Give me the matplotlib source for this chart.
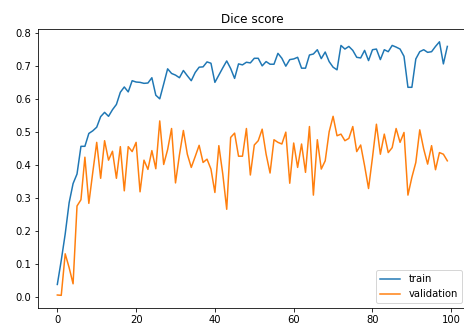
import numpy as np
import matplotlib
matplotlib.use('Agg')
import matplotlib.pyplot as plt

# Dice score per epoch
train_dice = [
    0.037, 0.11, 0.19, 0.285, 0.343, 0.372, 0.456, 0.456, 0.495, 0.503,
    0.514, 0.546, 0.559, 0.547, 0.567, 0.583, 0.62, 0.636, 0.621, 0.655,
    0.651, 0.65, 0.647, 0.648, 0.664, 0.611, 0.6, 0.645, 0.691, 0.677,
    0.672, 0.664, 0.686, 0.67, 0.655, 0.68, 0.696, 0.697, 0.712, 0.708,
    0.65, 0.672, 0.694, 0.715, 0.692, 0.662, 0.706, 0.703, 0.711, 0.709,
    0.723, 0.723, 0.7, 0.713, 0.705, 0.705, 0.738, 0.723, 0.699, 0.719,
    0.721, 0.726, 0.693, 0.693, 0.733, 0.736, 0.749, 0.722, 0.742, 0.713,
    0.696, 0.688, 0.762, 0.751, 0.759, 0.747, 0.726, 0.724, 0.747, 0.716,
    0.749, 0.751, 0.719, 0.749, 0.743, 0.762, 0.757, 0.751, 0.729, 0.635,
    0.635, 0.721, 0.743, 0.749, 0.741, 0.743, 0.759, 0.773, 0.706, 0.759,
]
val_dice = [
    0.005, 0.004, 0.13, 0.088, 0.039, 0.275, 0.294, 0.423, 0.283, 0.377,
    0.468, 0.359, 0.473, 0.414, 0.441, 0.359, 0.455, 0.321, 0.455, 0.44,
    0.468, 0.318, 0.414, 0.386, 0.443, 0.388, 0.533, 0.401, 0.446, 0.51,
    0.345, 0.43, 0.504, 0.432, 0.392, 0.425, 0.459, 0.407, 0.417, 0.387,
    0.316, 0.458, 0.372, 0.265, 0.483, 0.496, 0.426, 0.426, 0.51, 0.369,
    0.46, 0.473, 0.508, 0.432, 0.375, 0.476, 0.468, 0.463, 0.499, 0.344,
    0.466, 0.392, 0.463, 0.377, 0.516, 0.308, 0.476, 0.387, 0.412, 0.5,
    0.547, 0.488, 0.493, 0.473, 0.48, 0.516, 0.44, 0.46, 0.397, 0.328,
    0.422, 0.523, 0.432, 0.493, 0.437, 0.452, 0.51, 0.468, 0.498, 0.308,
    0.362, 0.407, 0.506, 0.448, 0.402, 0.458, 0.385, 0.437, 0.432, 0.412,
]
epochs = np.arange(len(train_dice))

fig = plt.figure(figsize=(464 / 72, 334 / 72), dpi=72)
ax = fig.add_axes([0.0815, 0.0778, 0.9246, 0.835])

ax.plot(epochs, train_dice, label='train')
ax.plot(epochs, val_dice, label='validation')
ax.set_title('Dice score')
ax.legend(loc='lower right')

fig.savefig('out.png', dpi=72)
